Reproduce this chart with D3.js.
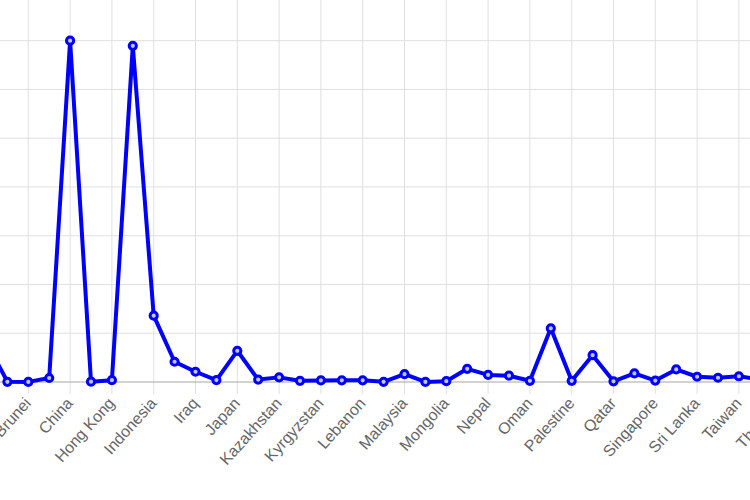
<!DOCTYPE html>
<html>
<head>
<meta charset="utf-8">
<script src="https://cdn.jsdelivr.net/npm/d3@7/dist/d3.min.js"></script>
<style>
  html, body { margin: 0; padding: 0; background: #fff; overflow: hidden; }
  svg { display: block; }
</style>
</head>
<body>
<svg id="chart" width="750" height="500"></svg>
<script>
// Population (millions) of Asian countries
const categories = [
  "Afghanistan", "Armenia", "Azerbaijan", "Bahrain", "Bangladesh", "Bhutan",
  "Brunei", "Cambodia", "China", "Cyprus", "Hong Kong", "India", "Indonesia",
  "Iran", "Iraq", "Israel", "Japan", "Jordan", "Kazakhstan", "Kuwait",
  "Kyrgyzstan", "Laos", "Lebanon", "Macau", "Malaysia", "Maldives", "Mongolia",
  "Myanmar", "Nepal", "North Korea", "Oman", "Pakistan", "Palestine",
  "Philippines", "Qatar", "Saudi Arabia", "Singapore", "South Korea",
  "Sri Lanka", "Syria", "Taiwan", "Tajikistan", "Thailand", "Turkey",
  "Turkmenistan", "United Arab Emirates", "Uzbekistan", "Vietnam", "Yemen"
];
const values = [
  39, 3, 10, 1.7, 164, 0.8,
  0.4, 16.4, 1400, 1.2, 7.5, 1379, 272,
  83, 42, 8, 128, 10, 19, 5,
  6.5, 7, 6.8, 0.6, 32, 0.5, 3.3,
  54, 29, 25.8, 5, 220, 5,
  110, 2.9, 35, 5.8, 51.7,
  21.5, 17.5, 23.5, 9.5, 70, 84,
  6, 10, 34, 97, 30
];
const yTicks = [0, 200, 400, 600, 800, 1000, 1200, 1400, 1600];

const W = 750, H = 500;
const step = 20.9;
const firstLabeled = 6;          // Brunei
const x0 = 28.3 - firstLabeled * step;
const baseY = 382;
const unit = 48.76 / 200;

const x = d3.scalePoint()
  .domain(categories)
  .range([x0, x0 + (categories.length - 1) * step]);
const y = d3.scaleLinear()
  .domain([0, 1600])
  .range([baseY, baseY - 1600 * unit]);

const svg = d3.select("#chart");

// horizontal grid
svg.append("g").selectAll("line")
  .data(yTicks.filter(t => t !== 0))
  .join("line")
  .attr("x1", 0).attr("x2", W)
  .attr("y1", d => y(d)).attr("y2", d => y(d))
  .attr("stroke", "#e0e0e0").attr("stroke-width", 1);

// vertical grid (labelled categories only) with tick extension
const labeled = categories.filter((c, i) => i % 2 === firstLabeled % 2);
svg.append("g").selectAll("line")
  .data(labeled)
  .join("line")
  .attr("x1", d => x(d)).attr("x2", d => x(d))
  .attr("y1", 0).attr("y2", baseY + 12)
  .attr("stroke", "#e0e0e0").attr("stroke-width", 1);

// zero line
svg.append("line")
  .attr("x1", 0).attr("x2", W)
  .attr("y1", y(0)).attr("y2", y(0))
  .attr("stroke", "#a6a6a6").attr("stroke-width", 1);

// labels
svg.append("g").selectAll("text")
  .data(labeled)
  .join("text")
  .attr("transform", d => `translate(${x(d) + 0.5},${baseY + 19}) rotate(-48)`)
  .attr("text-anchor", "end")
  .attr("dominant-baseline", "middle")
  .attr("font-family", "Liberation Sans, Arial, sans-serif")
  .attr("font-size", 16)
  .attr("fill", "#666")
  .text(d => d);

// line
const line = d3.line()
  .x((d, i) => x(categories[i]))
  .y(d => y(d));
svg.append("path")
  .datum(values)
  .attr("d", line)
  .attr("fill", "none")
  .attr("stroke", "#0000ff")
  .attr("stroke-width", 4)
  .attr("stroke-linejoin", "round");

// points
svg.append("g").selectAll("circle")
  .data(values)
  .join("circle")
  .attr("cx", (d, i) => x(categories[i]))
  .attr("cy", d => y(d))
  .attr("r", 3.6)
  .attr("fill", "#c4c4f0")
  .attr("stroke", "#0000ff")
  .attr("stroke-width", 3);
</script>
</body>
</html>
